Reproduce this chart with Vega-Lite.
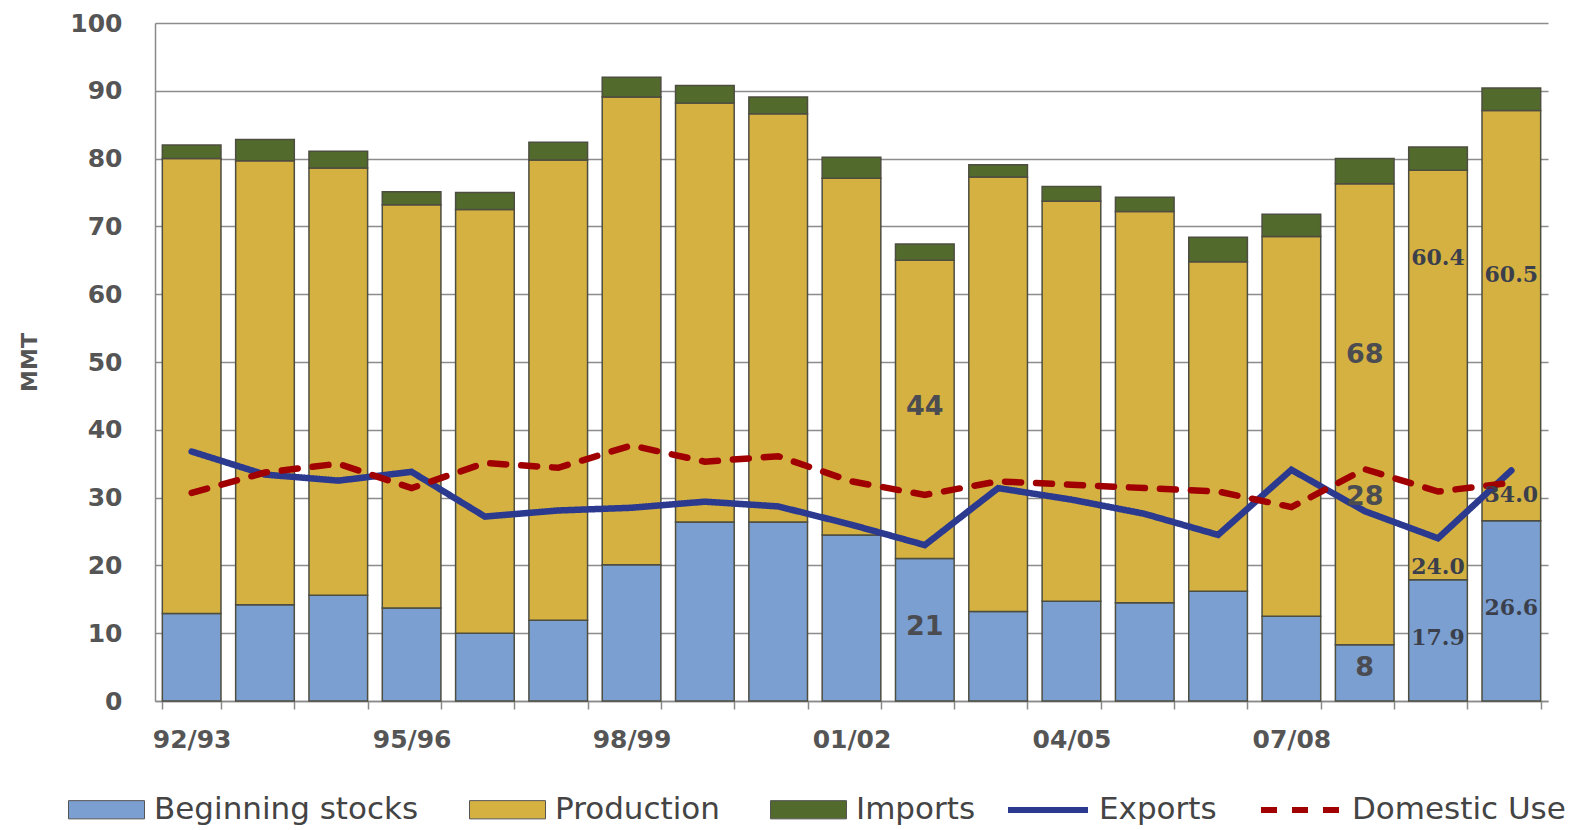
{
  "$schema": "https://vega.github.io/schema/vega-lite/v6.json",
  "width": 1393,
  "height": 678,
  "autosize": {"type": "none"},
  "padding": {"left": 155, "top": 23, "right": 32, "bottom": 129},
  "background": "white",
  "config": {"view": {"stroke": null}},
  "datasets": {
    "bars": [
      {"year": "92/93", "series": "Beginning stocks", "value": 12.9},
      {"year": "92/93", "series": "Production", "value": 67.1},
      {"year": "92/93", "series": "Imports", "value": 2.0},
      {"year": "93/94", "series": "Beginning stocks", "value": 14.2},
      {"year": "93/94", "series": "Production", "value": 65.5},
      {"year": "93/94", "series": "Imports", "value": 3.1},
      {"year": "94/95", "series": "Beginning stocks", "value": 15.6},
      {"year": "94/95", "series": "Production", "value": 63.0},
      {"year": "94/95", "series": "Imports", "value": 2.5},
      {"year": "95/96", "series": "Beginning stocks", "value": 13.7},
      {"year": "95/96", "series": "Production", "value": 59.5},
      {"year": "95/96", "series": "Imports", "value": 1.9},
      {"year": "96/97", "series": "Beginning stocks", "value": 10.0},
      {"year": "96/97", "series": "Production", "value": 62.5},
      {"year": "96/97", "series": "Imports", "value": 2.5},
      {"year": "97/98", "series": "Beginning stocks", "value": 11.9},
      {"year": "97/98", "series": "Production", "value": 67.9},
      {"year": "97/98", "series": "Imports", "value": 2.6},
      {"year": "98/99", "series": "Beginning stocks", "value": 20.1},
      {"year": "98/99", "series": "Production", "value": 69.0},
      {"year": "98/99", "series": "Imports", "value": 2.9},
      {"year": "99/00", "series": "Beginning stocks", "value": 26.4},
      {"year": "99/00", "series": "Production", "value": 61.8},
      {"year": "99/00", "series": "Imports", "value": 2.6},
      {"year": "00/01", "series": "Beginning stocks", "value": 26.4},
      {"year": "00/01", "series": "Production", "value": 60.2},
      {"year": "00/01", "series": "Imports", "value": 2.5},
      {"year": "01/02", "series": "Beginning stocks", "value": 24.5},
      {"year": "01/02", "series": "Production", "value": 52.6},
      {"year": "01/02", "series": "Imports", "value": 3.1},
      {"year": "02/03", "series": "Beginning stocks", "value": 21.0},
      {"year": "02/03", "series": "Production", "value": 44.0},
      {"year": "02/03", "series": "Imports", "value": 2.4},
      {"year": "03/04", "series": "Beginning stocks", "value": 13.2},
      {"year": "03/04", "series": "Production", "value": 64.1},
      {"year": "03/04", "series": "Imports", "value": 1.8},
      {"year": "04/05", "series": "Beginning stocks", "value": 14.7},
      {"year": "04/05", "series": "Production", "value": 59.0},
      {"year": "04/05", "series": "Imports", "value": 2.2},
      {"year": "05/06", "series": "Beginning stocks", "value": 14.5},
      {"year": "05/06", "series": "Production", "value": 57.7},
      {"year": "05/06", "series": "Imports", "value": 2.1},
      {"year": "06/07", "series": "Beginning stocks", "value": 16.2},
      {"year": "06/07", "series": "Production", "value": 48.6},
      {"year": "06/07", "series": "Imports", "value": 3.6},
      {"year": "07/08", "series": "Beginning stocks", "value": 12.5},
      {"year": "07/08", "series": "Production", "value": 56.0},
      {"year": "07/08", "series": "Imports", "value": 3.3},
      {"year": "08/09", "series": "Beginning stocks", "value": 8.3},
      {"year": "08/09", "series": "Production", "value": 68.0},
      {"year": "08/09", "series": "Imports", "value": 3.7},
      {"year": "09/10", "series": "Beginning stocks", "value": 17.9},
      {"year": "09/10", "series": "Production", "value": 60.4},
      {"year": "09/10", "series": "Imports", "value": 3.4},
      {"year": "10/11", "series": "Beginning stocks", "value": 26.6},
      {"year": "10/11", "series": "Production", "value": 60.5},
      {"year": "10/11", "series": "Imports", "value": 3.3}
    ],
    "seriesOrder": [
      {"series": "Beginning stocks", "rank": 1},
      {"series": "Production", "rank": 2},
      {"series": "Imports", "rank": 3}
    ],
    "lines": [
      {"year": "92/93", "series": "Exports", "value": 36.8},
      {"year": "93/94", "series": "Exports", "value": 33.4},
      {"year": "94/95", "series": "Exports", "value": 32.5},
      {"year": "95/96", "series": "Exports", "value": 33.8},
      {"year": "96/97", "series": "Exports", "value": 27.2},
      {"year": "97/98", "series": "Exports", "value": 28.1},
      {"year": "98/99", "series": "Exports", "value": 28.5},
      {"year": "99/00", "series": "Exports", "value": 29.4},
      {"year": "00/01", "series": "Exports", "value": 28.7},
      {"year": "01/02", "series": "Exports", "value": 26.0},
      {"year": "02/03", "series": "Exports", "value": 23.0},
      {"year": "03/04", "series": "Exports", "value": 31.4},
      {"year": "04/05", "series": "Exports", "value": 29.7},
      {"year": "05/06", "series": "Exports", "value": 27.6},
      {"year": "06/07", "series": "Exports", "value": 24.5},
      {"year": "07/08", "series": "Exports", "value": 34.1},
      {"year": "08/09", "series": "Exports", "value": 28.0},
      {"year": "09/10", "series": "Exports", "value": 24.0},
      {"year": "10/11", "series": "Exports", "value": 34.0},
      {"year": "92/93", "series": "Domestic Use", "value": 30.7},
      {"year": "93/94", "series": "Domestic Use", "value": 33.7},
      {"year": "94/95", "series": "Domestic Use", "value": 35.0},
      {"year": "95/96", "series": "Domestic Use", "value": 31.4},
      {"year": "96/97", "series": "Domestic Use", "value": 35.1},
      {"year": "97/98", "series": "Domestic Use", "value": 34.4},
      {"year": "98/99", "series": "Domestic Use", "value": 37.7},
      {"year": "99/00", "series": "Domestic Use", "value": 35.3},
      {"year": "00/01", "series": "Domestic Use", "value": 36.1},
      {"year": "01/02", "series": "Domestic Use", "value": 32.4},
      {"year": "02/03", "series": "Domestic Use", "value": 30.4},
      {"year": "03/04", "series": "Domestic Use", "value": 32.4},
      {"year": "04/05", "series": "Domestic Use", "value": 31.9},
      {"year": "05/06", "series": "Domestic Use", "value": 31.4},
      {"year": "06/07", "series": "Domestic Use", "value": 30.9},
      {"year": "07/08", "series": "Domestic Use", "value": 28.6},
      {"year": "08/09", "series": "Domestic Use", "value": 34.2},
      {"year": "09/10", "series": "Domestic Use", "value": 30.9},
      {"year": "10/11", "series": "Domestic Use", "value": 32.2}
    ],
    "labels": [
      {"year": "02/03", "label": "44", "at": 43.4},
      {"year": "02/03", "label": "21", "at": 10.9},
      {"year": "08/09", "label": "68", "at": 51.1},
      {"year": "08/09", "label": "8", "at": 4.9},
      {"year": "08/09", "label": "28", "at": 30.1}
    ],
    "labelsRecent": [
      {"year": "09/10", "label": "60.4", "at": 65.4},
      {"year": "09/10", "label": "24.0", "at": 19.8},
      {"year": "09/10", "label": "17.9", "at": 9.3},
      {"year": "10/11", "label": "60.5", "at": 62.9},
      {"year": "10/11", "label": "34.0", "at": 30.4},
      {"year": "10/11", "label": "26.6", "at": 13.7}
    ]
  },
  "layer": [
    {
      "data": {"name": "bars"},
      "transform": [
        {"lookup": "series", "from": {"data": {"name": "seriesOrder"}, "key": "series", "fields": ["rank"]}}
      ],
      "mark": {"type": "bar", "stroke": "#4d4d40", "strokeWidth": 1.5},
      "encoding": {
        "x": {
          "field": "year",
          "type": "nominal",
          "scale": {
            "domain": ["92/93", "93/94", "94/95", "95/96", "96/97", "97/98", "98/99", "99/00", "00/01", "01/02", "02/03", "03/04", "04/05", "05/06", "06/07", "07/08", "08/09", "09/10", "10/11"],
            "paddingInner": 0.2,
            "paddingOuter": 0.1
          },
          "axis": {
            "title": null,
            "tickBand": "extent",
            "ticks": true,
            "tickSize": 8,
            "tickColor": "#8a8a8a",
            "tickWidth": 1.5,
            "domainColor": "#8a8a8a",
            "domainWidth": 1.5,
            "grid": false,
            "labelFont": "DejaVu Sans",
            "labelFontWeight": "bold",
            "labelFontSize": 25,
            "labelColor": "#555555",
            "labelPadding": 18,
            "labelAngle": 0,
            "labelOverlap": false,
            "labelExpr": "indexof(['92/93','95/96','98/99','01/02','04/05','07/08'], datum.value) >= 0 ? datum.value : ''"
          }
        },
        "y": {
          "field": "value",
          "type": "quantitative",
          "stack": "zero",
          "scale": {"domain": [0, 100], "nice": false},
          "axis": {
            "title": "MMT",
            "titleFont": "DejaVu Sans",
            "titleFontWeight": "bold",
            "titleFontSize": 22,
            "titleColor": "#555555",
            "titlePadding": 28,
            "values": [0, 10, 20, 30, 40, 50, 60, 70, 80, 90, 100],
            "grid": true,
            "gridColor": "#8c8c8c",
            "gridWidth": 1.5,
            "domainColor": "#8a8a8a",
            "domainWidth": 1.5,
            "ticks": false,
            "labelFont": "DejaVu Sans",
            "labelFontWeight": "bold",
            "labelFontSize": 25,
            "labelColor": "#555555",
            "labelPadding": 33
          }
        },
        "fill": {
          "field": "series",
          "type": "nominal",
          "scale": {
            "domain": ["Beginning stocks", "Production", "Imports"],
            "range": ["#7b9fd0", "#d5b142", "#526b2d"]
          },
          "legend": {
            "title": null,
            "orient": "none",
            "legendX": -87,
            "legendY": 748,
            "direction": "horizontal",
            "symbolType": "M-1,-0.24H1V0.24H-1Z",
            "symbolSize": 5776,
            "symbolStrokeColor": "#555555",
            "symbolStrokeWidth": 1,
            "labelFont": "DejaVu Sans",
            "labelFontSize": 31,
            "labelColor": "#444444",
            "labelOffset": 9,
            "columnPadding": 48,
            "labelLimit": 400
          }
        },
        "order": {"field": "rank", "type": "quantitative", "sort": "ascending"}
      }
    },
    {
      "data": {"name": "lines"},
      "mark": {"type": "line", "strokeWidth": 6.5, "strokeCap": "round"},
      "encoding": {
        "x": {"field": "year", "type": "nominal"},
        "y": {"field": "value", "type": "quantitative"},
        "stroke": {
          "field": "series",
          "type": "nominal",
          "scale": {"domain": ["Exports", "Domestic Use"], "range": ["#2b3a8f", "#a00000"]},
          "legend": {
            "title": null,
            "orient": "none",
            "legendX": 850,
            "legendY": 744,
            "direction": "horizontal",
            "symbolType": "stroke",
            "symbolSize": 6400,
            "symbolStrokeWidth": 6,
            "labelFont": "DejaVu Sans",
            "labelFontSize": 31,
            "labelColor": "#444444",
            "labelOffset": 8,
            "columnPadding": 32,
            "labelLimit": 400
          }
        },
        "strokeDash": {
          "field": "series",
          "type": "nominal",
          "scale": {"domain": ["Exports", "Domestic Use"], "range": [[1, 0], [16, 15]]},
          "legend": {
            "title": null,
            "orient": "none",
            "legendX": 850,
            "legendY": 744,
            "direction": "horizontal",
            "symbolType": "stroke",
            "symbolSize": 6400,
            "symbolStrokeWidth": 6,
            "labelFont": "DejaVu Sans",
            "labelFontSize": 31,
            "labelColor": "#444444",
            "labelOffset": 8,
            "columnPadding": 32,
            "labelLimit": 400
          }
        }
      }
    },
    {
      "data": {"name": "labels"},
      "mark": {"type": "text", "font": "DejaVu Sans", "fontWeight": "bold", "fontSize": 27, "color": "#4a4c52", "align": "center", "baseline": "middle"},
      "encoding": {
        "x": {"field": "year", "type": "nominal"},
        "y": {"field": "at", "type": "quantitative"},
        "text": {"field": "label"}
      }
    },
    {
      "data": {"name": "labelsRecent"},
      "mark": {"type": "text", "font": "DejaVu Serif", "fontWeight": "bold", "fontSize": 22, "color": "#3b3f4c", "align": "center", "baseline": "middle"},
      "encoding": {
        "x": {"field": "year", "type": "nominal"},
        "y": {"field": "at", "type": "quantitative"},
        "text": {"field": "label"}
      }
    }
  ]
}
